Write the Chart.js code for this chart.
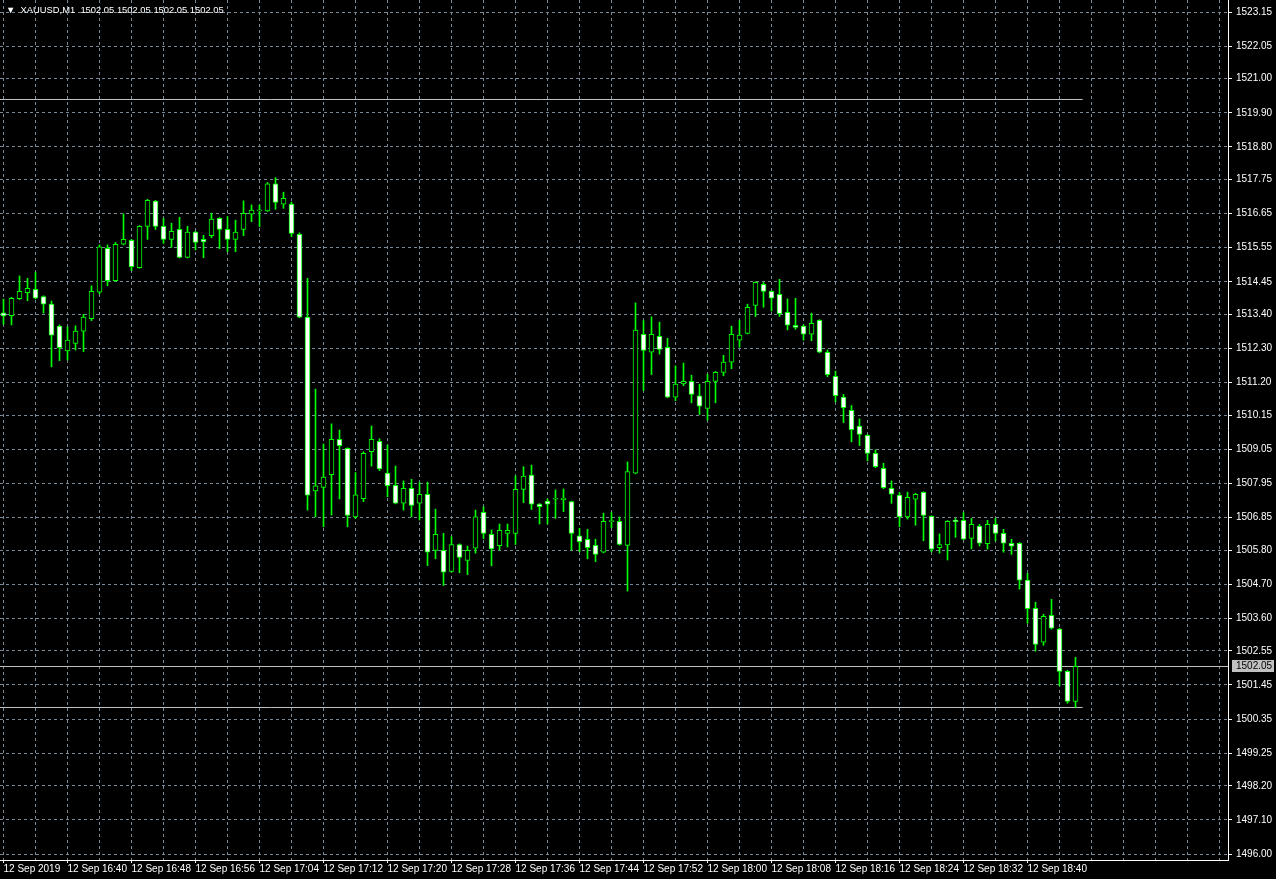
<!DOCTYPE html>
<html>
<head>
<meta charset="utf-8">
<script src="https://cdn.jsdelivr.net/npm/chart.js@4.4.0/dist/chart.umd.min.js"></script>
<style>
  html, body { margin: 0; padding: 0; background: #000; overflow: hidden; }
  #wrap { position: relative; width: 1276px; height: 879px; }
  #head { position: absolute; left: 6px; top: 4px; color: #fff; font: 9.4px 'Liberation Sans', sans-serif; white-space: pre; }
</style>
</head>
<body>
<div id="wrap">
  <canvas id="candleChart" width="1276" height="879"></canvas>
  <div id="head">▼  XAUUSD,M1  1502.05 1502.05 1502.05 1502.05</div>
</div>
<script>
// XAUUSD M1, 12 Sep 2019 16:32 - 18:46
var opens = [1513.45, 1513.36, 1513.91, 1514.10, 1514.21, 1513.97, 1513.73, 1513.02, 1512.22, 1512.46,
  1512.86, 1513.26, 1514.12, 1515.53, 1514.49, 1515.66, 1515.79, 1514.91, 1516.24, 1517.05,
  1516.24, 1515.82, 1516.14, 1515.24, 1516.05, 1515.82, 1515.94, 1516.50, 1516.14, 1515.82,
  1516.14, 1516.63, 1516.74, 1516.74, 1517.61, 1516.95, 1516.96, 1515.98, 1513.31, 1507.71,
  1507.82, 1508.23, 1509.37, 1509.08, 1506.87, 1507.46, 1508.97, 1509.31, 1508.28, 1507.89,
  1507.31, 1507.79, 1507.31, 1507.60, 1505.79, 1505.79, 1505.11, 1505.98, 1505.47, 1505.86,
  1507.02, 1506.31, 1505.94, 1506.34, 1506.34, 1507.76, 1508.22, 1507.28, 1507.38, 1507.44,
  1507.42, 1507.36, 1506.26, 1506.15, 1505.95, 1505.73, 1506.72, 1506.73, 1505.95, 1508.28,
  1512.76, 1512.18, 1512.69, 1512.34, 1510.73, 1511.16, 1511.24, 1510.77, 1510.37, 1511.24,
  1511.53, 1511.86, 1512.57, 1512.79, 1513.69, 1514.37, 1514.14, 1514.05, 1513.47, 1513.05,
  1513.02, 1512.76, 1513.21, 1512.18, 1511.40, 1510.73, 1510.31, 1509.80, 1509.50, 1508.92,
  1508.44, 1507.79, 1507.57, 1506.87, 1507.44, 1507.66, 1506.89, 1505.88, 1505.97, 1506.76,
  1506.76, 1506.18, 1506.57, 1506.01, 1506.63, 1506.34, 1506.02, 1506.02, 1504.83, 1503.92,
  1502.83, 1503.70, 1503.25, 1501.89, 1500.92];
var highs = [1513.89, 1513.95, 1514.64, 1514.56, 1514.76, 1514.00, 1513.83, 1513.06, 1513.00, 1513.03,
  1513.40, 1514.32, 1515.64, 1515.64, 1515.72, 1516.64, 1515.82, 1516.26, 1517.11, 1517.08,
  1516.50, 1516.34, 1516.53, 1516.24, 1516.08, 1515.95, 1516.66, 1516.52, 1516.55, 1516.44,
  1517.06, 1516.93, 1516.93, 1517.65, 1517.81, 1517.34, 1517.02, 1516.03, 1514.56, 1510.99,
  1509.22, 1509.87, 1509.67, 1509.10, 1508.30, 1508.97, 1509.80, 1509.39, 1509.19, 1508.51,
  1508.03, 1508.08, 1507.99, 1507.99, 1507.12, 1506.34, 1506.23, 1506.00, 1505.93, 1507.09,
  1507.20, 1506.45, 1506.64, 1506.64, 1508.19, 1508.49, 1508.54, 1507.30, 1507.45, 1507.74,
  1507.77, 1507.38, 1506.50, 1506.47, 1506.15, 1506.99, 1507.01, 1506.87, 1508.64, 1513.77,
  1513.20, 1513.32, 1513.15, 1512.63, 1511.74, 1511.83, 1511.44, 1511.15, 1511.47, 1511.56,
  1512.08, 1513.02, 1513.21, 1513.73, 1514.45, 1514.43, 1514.16, 1514.53, 1513.90, 1513.92,
  1513.06, 1513.44, 1513.23, 1512.25, 1511.57, 1510.82, 1510.46, 1510.03, 1509.52, 1509.03,
  1508.60, 1508.03, 1507.66, 1507.67, 1507.63, 1507.68, 1506.91, 1506.32, 1506.75, 1506.82,
  1507.01, 1506.82, 1506.63, 1506.76, 1506.82, 1506.47, 1506.15, 1506.04, 1505.05, 1504.12,
  1503.73, 1504.21, 1503.28, 1501.92, 1502.34];
var lows = [1513.08, 1513.06, 1513.88, 1513.84, 1513.90, 1513.44, 1511.71, 1511.91, 1511.93, 1512.25,
  1512.20, 1513.20, 1514.06, 1514.32, 1514.47, 1515.64, 1514.81, 1514.89, 1515.82, 1516.14,
  1515.69, 1515.56, 1515.22, 1515.22, 1515.48, 1515.23, 1515.87, 1515.52, 1515.42, 1515.42,
  1515.94, 1516.39, 1516.23, 1516.72, 1516.79, 1516.82, 1515.91, 1513.29, 1507.09, 1506.87,
  1506.55, 1506.93, 1507.45, 1506.55, 1506.82, 1507.36, 1508.51, 1508.36, 1507.52, 1507.29,
  1507.09, 1506.87, 1506.77, 1505.30, 1505.52, 1504.66, 1505.09, 1505.07, 1505.01, 1505.70,
  1506.17, 1505.29, 1505.80, 1505.90, 1505.98, 1507.33, 1507.11, 1506.64, 1506.64, 1506.82,
  1507.04, 1505.80, 1505.75, 1505.52, 1505.43, 1505.71, 1506.52, 1505.96, 1504.48, 1508.26,
  1510.94, 1511.46, 1512.12, 1510.71, 1510.62, 1511.10, 1510.55, 1510.17, 1509.99, 1510.55,
  1511.42, 1511.65, 1512.34, 1512.77, 1513.33, 1513.63, 1513.51, 1513.33, 1512.90, 1512.92,
  1512.57, 1512.55, 1512.16, 1511.39, 1510.58, 1509.91, 1509.29, 1509.17, 1508.68, 1508.46,
  1507.78, 1507.31, 1506.55, 1506.80, 1506.60, 1506.10, 1505.74, 1505.70, 1505.48, 1506.21,
  1506.13, 1505.84, 1505.93, 1505.83, 1506.10, 1505.73, 1505.66, 1504.54, 1503.44, 1502.54,
  1502.73, 1503.25, 1501.42, 1500.86, 1500.73];
var closes = [1513.35, 1513.92, 1514.14, 1514.24, 1513.92, 1513.73, 1512.73, 1512.33, 1512.57, 1512.86,
  1513.31, 1514.14, 1515.58, 1514.49, 1515.66, 1515.82, 1514.94, 1516.24, 1517.08, 1516.24,
  1515.82, 1516.08, 1515.24, 1516.05, 1515.72, 1515.74, 1516.47, 1516.14, 1515.82, 1516.05,
  1516.66, 1516.76, 1516.74, 1517.61, 1517.01, 1517.14, 1516.01, 1513.31, 1507.57, 1507.87,
  1508.15, 1509.37, 1509.17, 1506.92, 1507.58, 1508.92, 1509.37, 1508.42, 1507.88, 1507.31,
  1507.79, 1507.24, 1507.60, 1505.73, 1506.31, 1505.09, 1505.98, 1505.56, 1505.79, 1506.87,
  1506.34, 1505.84, 1506.44, 1506.44, 1507.76, 1508.19, 1507.28, 1507.20, 1507.28, 1507.44,
  1507.48, 1506.34, 1506.07, 1505.88, 1505.66, 1506.73, 1506.72, 1505.98, 1508.33, 1512.89,
  1512.24, 1512.76, 1512.27, 1510.73, 1511.15, 1511.24, 1510.82, 1510.44, 1511.24, 1511.53,
  1511.86, 1512.76, 1512.73, 1513.63, 1514.43, 1514.14, 1513.92, 1513.42, 1513.05, 1512.98,
  1512.76, 1513.11, 1512.18, 1511.46, 1510.78, 1510.39, 1509.68, 1509.53, 1508.92, 1508.49,
  1507.81, 1507.60, 1506.87, 1507.50, 1507.60, 1506.92, 1505.83, 1505.98, 1506.73, 1506.72,
  1506.15, 1506.63, 1506.02, 1506.63, 1506.34, 1506.02, 1505.93, 1504.83, 1503.91, 1502.76,
  1503.66, 1503.28, 1501.89, 1500.92, 1502.05];

// one label every 8 bars, starting with the first bar
var timeLabels = ['12 Sep 2019', '12 Sep 16:40', '12 Sep 16:48', '12 Sep 16:56', '12 Sep 17:04', '12 Sep 17:12',
  '12 Sep 17:20', '12 Sep 17:28', '12 Sep 17:36', '12 Sep 17:44', '12 Sep 17:52', '12 Sep 18:00',
  '12 Sep 18:08', '12 Sep 18:16', '12 Sep 18:24', '12 Sep 18:32', '12 Sep 18:40'];
var priceTicks = ['1496.00', '1497.10', '1498.20', '1499.25', '1500.35', '1501.45', '1502.55', '1503.60',
  '1504.70', '1505.80', '1506.85', '1507.95', '1509.05', '1510.15', '1511.20', '1512.30', '1513.40',
  '1514.45', '1515.55', '1516.65', '1517.75', '1518.80', '1519.90', '1521.00', '1522.05', '1523.15'];
var levelLines = [1520.35, 1500.73];
var bidPrice = 1502.05;

var GREEN = '#00ff00';
var GRID = '#778899';

var bodies = opens.map(function(o, i) { return {x: i, y: [o, closes[i]]}; });
var wicks = lows.map(function(l, i) { return {x: i, y: [l, highs[i]]}; });
var bodyFill = opens.map(function(o, i) { return closes[i] < o ? '#ffffff' : '#000000'; });

function hasTimeLabel(v) {
  return v % 8 === 0 && !!timeLabels[v / 8];
}

var levelsPlugin = {
  id: 'levels',
  beforeDatasetsDraw: function(chart) {
    var ctx = chart.ctx, xs = chart.scales.x, ys = chart.scales.y, area = chart.chartArea;
    var xEnd = xs.getPixelForValue(closes.length - 0.1);
    ctx.save();
    ctx.lineWidth = 1;
    ctx.strokeStyle = '#c0c0c0';
    levelLines.forEach(function(v) {
      var py = Math.round(ys.getPixelForValue(v)) + 0.5;
      ctx.beginPath(); ctx.moveTo(area.left, py); ctx.lineTo(xEnd, py); ctx.stroke();
    });
    var by = Math.round(ys.getPixelForValue(bidPrice)) + 0.5;
    ctx.beginPath(); ctx.moveTo(area.left, by); ctx.lineTo(area.right, by); ctx.stroke();
    ctx.restore();
  },
  afterDraw: function(chart) {
    var ctx = chart.ctx, ys = chart.scales.y, area = chart.chartArea;
    var by = Math.round(ys.getPixelForValue(bidPrice));
    ctx.save();
    ctx.fillStyle = '#c0c0c0';
    ctx.fillRect(area.right + 4, by - 6, 42, 12);
    ctx.fillStyle = '#000000';
    ctx.font = '10px "Liberation Sans"';
    ctx.textBaseline = 'middle';
    ctx.fillText(bidPrice.toFixed(2), area.right + 8, by + 0.5);
    ctx.restore();
  }
};

var ctx = document.getElementById('candleChart').getContext('2d');
var myChart = new Chart(ctx, {
  type: 'bar',
  data: {
    datasets: [{
      label: 'body',
      data: bodies,
      backgroundColor: bodyFill,
      borderColor: GREEN,
      borderWidth: 1,
      borderSkipped: false,
      barThickness: 5,
      minBarLength: 1,
      grouped: false
    }, {
      label: 'wick',
      data: wicks,
      backgroundColor: GREEN,
      borderWidth: 0,
      barThickness: 1,
      grouped: false
    }]
  },
  options: {
    responsive: false,
    animation: false,
    devicePixelRatio: 1,
    layout: { padding: 0 },
    plugins: {
      legend: { display: false },
      tooltip: { enabled: false }
    },
    scales: {
      x: {
        type: 'linear',
        min: -0.4375,
        max: 153.0625,
        offset: false,
        grid: {
          offset: false,
          color: GRID,
          drawTicks: true,
          tickLength: 3,
          tickBorderDash: [],
          tickColor: function(c) { return c.tick && hasTimeLabel(c.tick.value) ? '#ffffff' : 'rgba(0,0,0,0)'; }
        },
        border: { display: true, color: '#ffffff', dash: [3, 3] },
        ticks: {
          color: '#ffffff',
          font: { family: 'Liberation Sans', size: 10 },
          align: 'start',
          padding: 0,
          autoSkip: false,
          maxRotation: 0,
          minRotation: 0,
          callback: function(v) { return hasTimeLabel(v) ? timeLabels[v / 8] : ''; }
        },
        afterBuildTicks: function(s) {
          var t = [];
          for (var v = 0; v <= 152; v += 4) t.push({value: v});
          s.ticks = t;
        },
        afterFit: function(s) {
          s.height = 19;
          s.paddingLeft = 0; s.paddingRight = 0; s.paddingTop = 0; s.paddingBottom = 0;
        }
      },
      y: {
        type: 'linear',
        position: 'right',
        min: 1495.807,
        max: 1523.537,
        grid: {
          color: GRID,
          drawTicks: true,
          tickLength: 4,
          tickBorderDash: [],
          tickColor: '#ffffff'
        },
        border: { display: true, color: '#ffffff', dash: [3, 3] },
        ticks: {
          color: '#ffffff',
          font: { family: 'Liberation Sans', size: 10 },
          padding: 4,
          autoSkip: false,
          callback: function(v, i) { return priceTicks[i]; }
        },
        afterBuildTicks: function(s) {
          s.ticks = priceTicks.map(function(t) { return {value: parseFloat(t)}; });
        },
        afterFit: function(s) {
          s.width = 48;
          s.paddingLeft = 0; s.paddingRight = 0; s.paddingTop = 0; s.paddingBottom = 0;
        }
      }
    }
  },
  plugins: [levelsPlugin]
});
</script>
</body>
</html>
